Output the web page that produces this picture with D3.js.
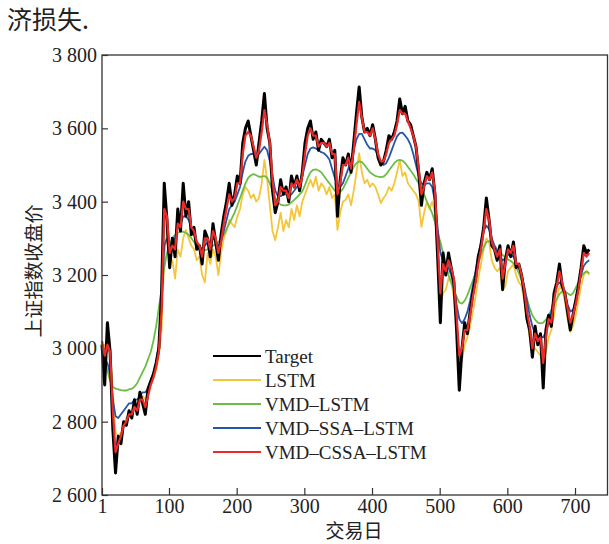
<!DOCTYPE html>
<html>
<head>
<meta charset="utf-8">
<script src="https://cdn.jsdelivr.net/npm/d3@7"></script>
<style>
  body { margin: 0; background: #fff; }
  text { fill: #222; }
</style>
</head>
<body>
<svg id="chart" width="609" height="544"></svg>
<script>
// trading day index, one reading every 4 days
const days = d3.range(1, 722, 4);

const target = [
  3010, 2900, 3070, 2990, 2780, 2660, 2760, 2740, 2800, 2790,
  2830, 2810, 2860, 2820, 2880, 2850, 2820, 2890, 2910, 2930,
  2960, 3000, 3150, 3450, 3350, 3220, 3300, 3250, 3380, 3320,
  3450, 3360, 3400, 3310, 3330, 3270, 3280, 3230, 3320, 3300,
  3250, 3340, 3290, 3240, 3310, 3360, 3400, 3450, 3390, 3420,
  3470, 3450, 3560, 3600, 3620, 3580, 3540, 3500, 3560, 3620,
  3695, 3600, 3560, 3430, 3370, 3400, 3460, 3420, 3440, 3400,
  3470, 3440, 3470, 3430, 3480, 3560, 3600, 3620, 3570, 3590,
  3540, 3570, 3560, 3550, 3570, 3520, 3540, 3360, 3460, 3520,
  3500, 3530, 3480, 3560, 3640, 3713, 3630, 3590, 3600, 3580,
  3610, 3570, 3520, 3500, 3510, 3540, 3580, 3570, 3590, 3620,
  3680, 3640, 3660, 3620, 3610, 3580, 3550, 3480, 3390, 3450,
  3480, 3460, 3490, 3420, 3250, 3070, 3260, 3200, 3260, 3220,
  3180, 3050, 2886, 3000, 3070, 3040, 3100, 3150, 3190, 3250,
  3280, 3330, 3410, 3350, 3280, 3270, 3240, 3280, 3160, 3240,
  3280, 3250, 3290, 3220, 3230, 3200, 3150, 3080, 3050, 2976,
  3060, 3010, 3040, 2892, 3050, 3090, 3060, 3150, 3180, 3230,
  3170, 3150, 3100, 3050, 3090, 3130, 3170, 3220, 3280, 3260,
  3270
];

const lstm = [
  3000, 3010, 2990, 3000, 2880, 2770, 2760, 2770, 2790, 2810,
  2820, 2830, 2850, 2850, 2860, 2870, 2860, 2880, 2900, 2920,
  2940, 2980, 3050, 3250, 3315, 3230, 3240, 3190, 3270, 3250,
  3300, 3323, 3300, 3280, 3270, 3240, 3250, 3200, 3180, 3260,
  3230, 3270, 3250, 3200, 3260, 3300, 3320, 3350, 3340, 3330,
  3360, 3380, 3420, 3440, 3430, 3410, 3420, 3400, 3410, 3450,
  3514, 3460, 3390, 3320, 3295, 3330, 3370, 3320, 3350, 3330,
  3380, 3350, 3390, 3360, 3400, 3420, 3440, 3460, 3440, 3468,
  3430, 3450, 3440, 3420, 3440, 3410, 3420, 3323, 3370, 3400,
  3405, 3420, 3390, 3430, 3480, 3532, 3480, 3450, 3460, 3440,
  3450, 3440, 3420, 3396, 3410, 3420, 3440, 3430, 3450, 3480,
  3514, 3470, 3480, 3450, 3440, 3430, 3420, 3400, 3331, 3370,
  3400, 3380, 3400, 3370, 3250, 3120, 3150, 3160, 3190, 3180,
  3140, 3060, 2970, 2968, 3010, 3030, 3060, 3100, 3140, 3190,
  3230, 3270, 3300, 3290, 3240, 3220, 3210, 3220, 3159, 3170,
  3210, 3220, 3230, 3200, 3180, 3170, 3130, 3080, 3030, 2990,
  3000, 2990, 2980, 2960, 2990, 3030, 3050, 3090, 3130, 3170,
  3160, 3130, 3080, 3045, 3060, 3090, 3130, 3170, 3200, 3210,
  3200
];

const vmdLstm = [
  2990, 2960, 2940, 2910, 2895, 2890, 2888, 2886, 2885, 2885,
  2888, 2890, 2895, 2905, 2920, 2935, 2950, 2970, 2990, 3020,
  3060, 3110, 3160, 3220, 3260, 3285, 3300, 3310, 3315, 3318,
  3318, 3315, 3310, 3300, 3290, 3280, 3275, 3270, 3268, 3270,
  3275, 3280, 3285, 3290, 3300, 3310, 3325, 3340, 3355, 3370,
  3390, 3410, 3430, 3450, 3465, 3472, 3475, 3472, 3468, 3468,
  3470, 3465, 3450, 3430, 3410, 3398, 3392, 3390, 3390, 3392,
  3398, 3405, 3412, 3420, 3428, 3445, 3465, 3480, 3487, 3488,
  3485, 3480, 3470, 3460, 3450, 3440, 3430, 3425, 3427, 3435,
  3450, 3465, 3480, 3495, 3505, 3510, 3508, 3500, 3490, 3480,
  3475, 3470, 3468, 3467, 3468, 3475, 3485, 3495, 3505, 3512,
  3514, 3512, 3505, 3495, 3485, 3475, 3462, 3450, 3435, 3420,
  3400, 3385, 3368, 3345, 3315, 3290, 3260, 3230, 3200, 3180,
  3160, 3140, 3125, 3122, 3130, 3145, 3165, 3185, 3205, 3230,
  3255, 3275, 3290, 3292, 3288, 3280, 3270, 3262, 3255, 3248,
  3242, 3238, 3232, 3222, 3205, 3185, 3160, 3135, 3110, 3090,
  3078, 3070, 3068, 3070, 3078, 3090, 3105, 3120, 3135, 3148,
  3155, 3155, 3150, 3145, 3150, 3165, 3180, 3195, 3205, 3210,
  3205
];

const vmdSsaLstm = [
  2990, 2970, 2960, 2930, 2860, 2815, 2810, 2820, 2830, 2840,
  2850, 2850, 2860, 2860, 2870, 2880, 2880, 2890, 2910, 2930,
  2960, 3010, 3120, 3280, 3300, 3280, 3290, 3300, 3330, 3340,
  3360, 3360, 3350, 3330, 3310, 3290, 3280, 3270, 3280, 3290,
  3290, 3300, 3290, 3280, 3290, 3320, 3350, 3380, 3390, 3400,
  3420, 3440, 3480, 3510, 3525, 3530, 3530, 3525, 3530, 3540,
  3550, 3540, 3510, 3470, 3430, 3415, 3415, 3420, 3420, 3415,
  3420, 3430, 3440, 3450, 3470, 3500, 3530, 3545, 3548, 3545,
  3540, 3535, 3532, 3525, 3515, 3490, 3465, 3445, 3440, 3450,
  3470, 3490, 3510, 3540, 3570, 3585, 3585, 3570, 3555, 3545,
  3545, 3540, 3525, 3510, 3500, 3505, 3520, 3540, 3560, 3578,
  3587, 3588, 3580, 3570, 3555, 3530, 3500, 3470, 3450, 3445,
  3450, 3450, 3440, 3400, 3330, 3260, 3240, 3230, 3220, 3200,
  3170, 3120, 3080, 3068, 3080, 3100, 3130, 3170, 3210, 3250,
  3290, 3320, 3335, 3325, 3300, 3280, 3265, 3250, 3240, 3245,
  3255, 3255, 3250, 3235, 3220, 3200, 3170, 3130, 3090, 3060,
  3040, 3035, 3032, 3030, 3045, 3070, 3100, 3140, 3170, 3180,
  3170, 3150, 3120, 3100, 3105, 3130, 3170, 3200, 3225, 3235,
  3240
];

const vmdCssaLstm = [
  3020, 2980, 3010, 2990, 2830, 2717, 2740, 2760, 2790, 2800,
  2820, 2820, 2840, 2830, 2860, 2860, 2840, 2870, 2900, 2920,
  2950, 2990, 3100, 3380, 3360, 3260, 3280, 3270, 3340, 3330,
  3400, 3380, 3380, 3330, 3320, 3290, 3280, 3250, 3300, 3300,
  3270, 3320, 3300, 3260, 3290, 3340, 3380, 3420, 3400, 3410,
  3450, 3450, 3530, 3580, 3590, 3580, 3550, 3520, 3540, 3590,
  3650, 3610, 3560, 3460, 3390, 3400, 3440, 3430, 3430, 3410,
  3450, 3440, 3460, 3440, 3470, 3530, 3580, 3600, 3580, 3580,
  3550, 3560, 3560, 3550, 3560, 3530, 3530, 3420, 3450, 3500,
  3500, 3520, 3490, 3540, 3610, 3672, 3630, 3590, 3590, 3580,
  3600, 3570, 3530, 3510, 3510, 3530, 3560, 3570, 3580, 3610,
  3650, 3640, 3640, 3620, 3600, 3580, 3550, 3490, 3420, 3440,
  3470, 3460, 3480, 3430, 3290, 3150, 3230, 3210, 3240, 3220,
  3190, 3090, 2980, 3000, 3050, 3050, 3090, 3140, 3180, 3230,
  3270, 3320, 3380, 3350, 3290, 3270, 3250, 3270, 3190, 3230,
  3270, 3260, 3280, 3230, 3230, 3200, 3160, 3100, 3060, 3000,
  3040, 3020, 3030, 2960, 3030, 3080, 3070, 3130, 3170, 3210,
  3180, 3150, 3110, 3070, 3090, 3120, 3160, 3210, 3260, 3250,
  3260
];

const xTicks = [1, 100, 200, 300, 400, 500, 600, 700];
const yTicks = [2600, 2800, 3000, 3200, 3400, 3600, 3800];

// legend order; drawing order handled below
const series = [
  {name: "Target", values: target, color: "#000000", width: 3},
  {name: "LSTM", values: lstm, color: "#f5c63a", width: 1.8},
  {name: "VMD–LSTM", values: vmdLstm, color: "#6cbd45", width: 1.8},
  {name: "VMD–SSA–LSTM", values: vmdSsaLstm, color: "#2457a8", width: 1.8},
  {name: "VMD–CSSA–LSTM", values: vmdCssaLstm, color: "#ec2a2a", width: 2.2}
];
const drawOrder = ["LSTM", "VMD–LSTM", "VMD–SSA–LSTM", "Target", "VMD–CSSA–LSTM"];

const margin = {top: 55, right: 1.5, bottom: 49, left: 102},
    width = 609 - margin.left - margin.right,
    height = 544 - margin.top - margin.bottom;

const svg = d3.select("#chart");

// text fragment left over from the page above the figure
svg.append("text")
    .attr("x", 7)
    .attr("y", 29)
    .style("font-family", "'Noto Sans CJK SC'")
    .style("font-size", "25px")
    .text("济损失.");

const g = svg.append("g")
    .attr("transform", "translate(" + margin.left + "," + margin.top + ")");

const x = d3.scaleLinear().domain([1, 748]).range([0, width]);
const y = d3.scaleLinear().domain([2600, 3800]).range([height, 0]);

const fmt = d => d3.format(",")(d).replace(",", " ");

const xAxis = g.append("g")
    .attr("transform", "translate(0," + height + ")")
    .call(d3.axisBottom(x).tickValues(xTicks).tickSizeInner(-7).tickSizeOuter(0).tickPadding(4));
const yAxis = g.append("g")
    .call(d3.axisLeft(y).tickValues(yTicks).tickFormat(fmt).tickSizeInner(-6).tickSizeOuter(0).tickPadding(5));

[xAxis, yAxis].forEach(a => {
    a.select(".domain").remove();
    a.selectAll("line").attr("stroke", "#333").attr("stroke-width", 1.2);
    a.selectAll("text")
        .style("font-family", "'Liberation Serif', serif")
        .style("font-size", "20px")
        .attr("fill", "#222");
});

const line = d3.line()
    .x((d, i) => x(days[i]))
    .y(d => y(d));

drawOrder.forEach(name => {
    const s = series.find(s => s.name === name);
    g.append("path")
        .datum(s.values)
        .attr("fill", "none")
        .attr("stroke", s.color)
        .attr("stroke-width", s.width)
        .attr("stroke-linejoin", "round")
        .attr("d", line);
});

// frame
g.append("rect")
    .attr("width", width)
    .attr("height", height)
    .attr("fill", "none")
    .attr("stroke", "#333")
    .attr("stroke-width", 1.3);

// legend
const legend = svg.append("g").attr("transform", "translate(213,356)");
series.forEach((s, i) => {
    const row = legend.append("g").attr("transform", "translate(0," + (i * 24) + ")");
    row.append("line")
        .attr("x1", 0).attr("x2", 48)
        .attr("stroke", s.color)
        .attr("stroke-width", 2);
    row.append("text")
        .attr("x", 52)
        .attr("dy", "0.35em")
        .style("font-family", "'Liberation Serif', serif")
        .style("font-size", "19px")
        .text(s.name);
});

// axis titles
svg.append("text")
    .attr("transform", "translate(41,271) rotate(-90)")
    .attr("text-anchor", "middle")
    .style("font-family", "'Noto Sans CJK SC'")
    .style("font-size", "19px")
    .text("上证指数收盘价");

svg.append("text")
    .attr("x", 354)
    .attr("y", 538)
    .attr("text-anchor", "middle")
    .style("font-family", "'Noto Sans CJK SC'")
    .style("font-size", "19px")
    .text("交易日");
</script>
</body>
</html>
